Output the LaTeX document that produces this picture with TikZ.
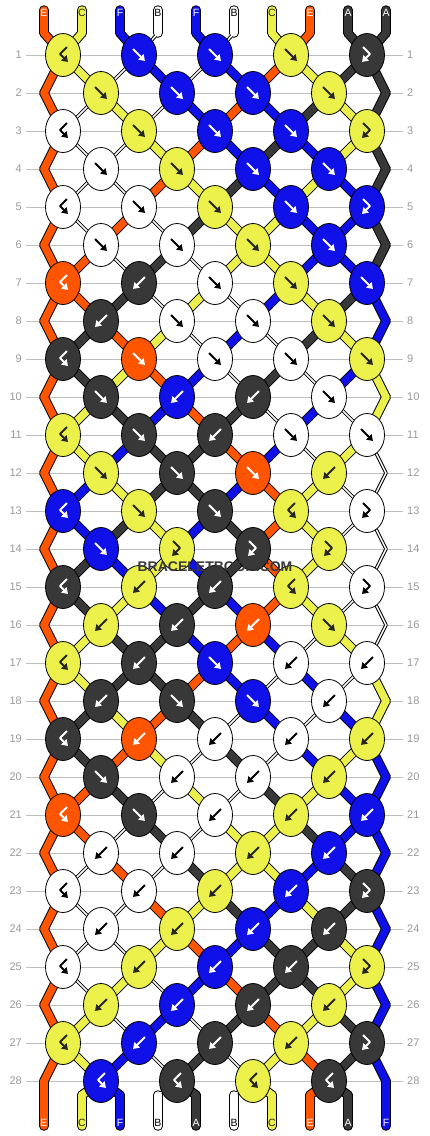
\documentclass[tikz,border=0pt]{standalone}
\usepackage{fontspec}
\setmainfont{Liberation Sans}
\setsansfont{Liberation Sans}
\usetikzlibrary{shapes.geometric,arrows.meta}

% string colours (A..F as on the pattern) and the colour of the arrows on them
\definecolor{cE}{RGB}{255,85,0}
\definecolor{cC}{RGB}{236,240,74}
\definecolor{cF}{RGB}{16,16,232}
\definecolor{cB}{RGB}{255,255,255}
\definecolor{cA}{RGB}{56,56,56}
\colorlet{aE}{white}
\colorlet{aC}{black!85}
\colorlet{aF}{white}
\colorlet{aB}{black}
\colorlet{aA}{white}

\tikzstyle{knot}=[draw,ellipse,line width=0.8pt,minimum width=35pt,minimum height=43pt,inner sep=0pt]
\tikzstyle{guide}=[draw=black!25,line width=0.8pt]
\tikzstyle{rownum}=[text=black!40,font=\fontsize{11}{11}\selectfont,inner sep=4pt]
\tikzstyle{rim}=[draw=black,line width=9.5pt,line cap=round]
\tikzstyle{thin rim}=[draw=black,line width=3.5pt,line cap=round]
\tikzstyle{thin core}=[draw=white,line width=1.5pt,line cap=round]
\tikzstyle{endtag}=[font=\sffamily\fontsize{10.5}{10.5}\selectfont,inner sep=0pt]
\tikzstyle{stem}=[line width=2pt,-{Triangle[length=6pt,width=7.5pt]}]
\tikzset{
  core/.style={draw=c#1,line width=7.5pt,line cap=round},
  arrow f/.pic={\draw[stem] (-6,-6) -- (6,6);},
  arrow b/.pic={\draw[stem] (6,-6) -- (-6,6);},
  arrow fb/.pic={\draw[stem,line join=round] (-4,-8) -- (3,-1) -- (-5,7);},
  arrow bf/.pic={\draw[stem,line join=round] (4,-8) -- (-3,-1) -- (5,7);}
}

% strings at each position after row r (row 0 = start)
\newcommand{\strandrows}{%
0/{E,C,F,B,F,B,C,E,A,A}, 1/{E,C,B,F,B,F,E,C,A,A}, 2/{E,B,C,B,F,E,F,A,C,A},
3/{E,B,B,C,E,F,A,F,C,A}, 4/{E,B,B,E,C,A,F,C,F,A}, 5/{E,B,E,B,A,C,C,F,F,A},
6/{E,E,B,A,B,C,C,F,F,A}, 7/{E,E,A,B,C,B,F,C,A,F}, 8/{E,A,E,C,B,F,B,A,C,F},
9/{E,A,C,E,F,B,A,B,F,C}, 10/{E,C,A,F,E,A,B,F,B,C}, 11/{E,C,F,A,A,E,F,B,C,B},
12/{E,F,C,A,A,F,E,C,B,B}, 13/{E,F,A,C,F,A,E,C,B,B}, 14/{E,A,F,C,F,A,E,C,B,B},
15/{E,A,C,F,A,F,E,C,B,B}, 16/{E,C,A,A,F,E,F,B,C,B}, 17/{E,C,A,A,E,F,B,F,B,C},
18/{E,A,C,E,A,B,F,B,F,C}, 19/{E,A,E,C,B,A,B,F,C,F}, 20/{E,E,A,B,C,B,A,C,F,F},
21/{E,E,B,A,B,C,C,A,F,F}, 22/{E,B,E,B,A,C,C,F,A,F}, 23/{E,B,B,E,C,A,F,C,A,F},
24/{E,B,B,C,E,F,A,A,C,F}, 25/{E,B,C,B,F,E,A,A,C,F}, 26/{E,C,B,F,B,A,E,C,A,F},
27/{E,C,F,B,A,B,C,E,A,F}, 28/{E,C,F,B,A,B,C,E,A,F}}

% knots of each row: colour/type
\newcommand{\knotrows}{%
1/{C/bf,F/f,F/f,C/f,A/fb}, 2/{C/f,F/f,F/f,C/f},
3/{B/bf,C/f,F/f,F/f,C/fb}, 4/{B/f,C/f,F/f,F/f},
5/{B/bf,B/f,C/f,F/f,F/fb}, 6/{B/f,B/f,C/f,F/f},
7/{E/bf,A/b,B/f,C/f,F/f}, 8/{A/b,B/f,B/f,C/f},
9/{A/bf,E/f,B/f,B/f,C/f}, 10/{A/f,F/b,A/b,B/f},
11/{C/bf,A/f,A/b,B/f,B/f}, 12/{C/f,A/f,E/f,C/b},
13/{F/bf,C/f,A/f,C/bf,B/fb}, 14/{F/f,C/fb,A/fb,C/fb},
15/{A/bf,C/b,A/b,C/bf,B/fb}, 16/{C/b,A/b,E/b,C/f},
17/{C/bf,A/b,F/f,B/b,B/b}, 18/{A/b,A/f,F/f,B/b},
19/{A/bf,E/b,B/b,B/b,C/b}, 20/{A/f,B/b,B/b,C/b},
21/{E/bf,A/f,B/b,C/b,F/b}, 22/{B/b,B/b,C/b,F/b},
23/{B/bf,B/b,C/b,F/b,A/fb}, 24/{B/b,C/b,F/b,A/b},
25/{B/bf,C/b,F/b,A/b,C/fb}, 26/{C/b,F/b,A/b,C/b},
27/{C/bf,F/b,A/b,C/b,A/fb}, 28/{F/bf,A/bf,C/bf,A/bf}}

\begin{document}
\begin{tikzpicture}[x=1pt,y=-1pt]
    \path[use as bounding box,fill=white] (0,0) rectangle (430,1136);
    % row numbers and guide lines
    \foreach \r in {1,...,28} {
        \pgfmathsetmacro\ky{55+38*(\r-1)}
        \node[rownum,anchor=east] (numL-\r) at (26,\ky) {\r};
        \node[rownum,anchor=west] (numR-\r) at (403,\ky) {\r};
        \draw[guide] (numL-\r) -- (numR-\r);
    }
    % where each string position sits in each row
    \foreach \p in {1,...,10} {
        \pgfmathsetmacro\qx{44+38*(\p-1)}
        \coordinate (q-top-\p) at (\qx,10);
        \coordinate (q-0-\p) at (\qx,33);
        \coordinate (q-29-\p) at (\qx,1095);
        \coordinate (q-bot-\p) at (\qx,1126);
    }
    \foreach \r in {1,...,28} {
        \pgfmathsetmacro\qy{55+38*(\r-1)}
        \foreach \p in {1,...,10} {
            \ifodd\r\relax
                \pgfmathsetmacro\qx{63+76*(ceil(\p/2)-1)}
            \else
                \pgfmathsetmacro\qx{ifthenelse(\p==1,44,ifthenelse(\p==10,386,101+76*(floor(\p/2)-1)))}
            \fi
            \coordinate (q-\r-\p) at (\qx,\qy);
        }
    }
    % strings: black rims first, then the colours
    \foreach \s [count=\p] in {E,C,F,B,F,B,C,E,A,A}
        \draw[rim] (q-top-\p) -- (q-0-\p);
    \foreach \s [count=\p] in {E,C,F,B,A,B,C,E,A,F}
        \draw[rim] (q-29-\p) -- (q-bot-\p);
    \foreach \r/\cols in \strandrows {
        \pgfmathtruncatemacro\nxt{\r+1}
        \foreach \s [count=\p] in \cols {
            \if B\s \draw[thin rim] (q-\r-\p) -- (q-\nxt-\p);
            \else \draw[rim] (q-\r-\p) -- (q-\nxt-\p); \fi
        }
    }
    \foreach \s [count=\p] in {E,C,F,B,F,B,C,E,A,A}
        \draw[core=\s] (q-top-\p) -- (q-0-\p);
    \foreach \s [count=\p] in {E,C,F,B,A,B,C,E,A,F}
        \draw[core=\s] (q-29-\p) -- (q-bot-\p);
    \foreach \r/\cols in \strandrows {
        \pgfmathtruncatemacro\nxt{\r+1}
        \foreach \s [count=\p] in \cols {
            \if B\s \draw[thin core] (q-\r-\p) -- (q-\nxt-\p);
            \else \draw[core=\s] (q-\r-\p) -- (q-\nxt-\p); \fi
        }
    }
    % knots
    \foreach \r/\kn in \knotrows {
        \pgfmathsetmacro\ky{55+38*(\r-1)}
        \foreach \s/\t [count=\j] in \kn {
            \pgfmathsetmacro\kx{ifthenelse(isodd(\r),63,101)+76*(\j-1)}
            \node[knot,fill=c\s] (k-\r-\j) at (\kx,\ky) {};
            \pic[color=a\s] at (k-\r-\j) {arrow \t};
        }
    }
    % letters on the string ends
    \foreach \s [count=\p] in {E,C,F,B,F,B,C,E,A,A}
        \node[endtag,text=a\s] (tagT-\p) at ([yshift=-2.5pt]q-top-\p) {\s};
    \foreach \s [count=\p] in {E,C,F,B,A,B,C,E,A,F}
        \node[endtag,text=a\s] (tagB-\p) at ([yshift=3pt]q-bot-\p) {\s};
    \node[font=\bfseries\fontsize{14}{14}\selectfont,text=black!78] (site) at (215,567) {BRACELETBOOK.COM};
\end{tikzpicture}
\end{document}
